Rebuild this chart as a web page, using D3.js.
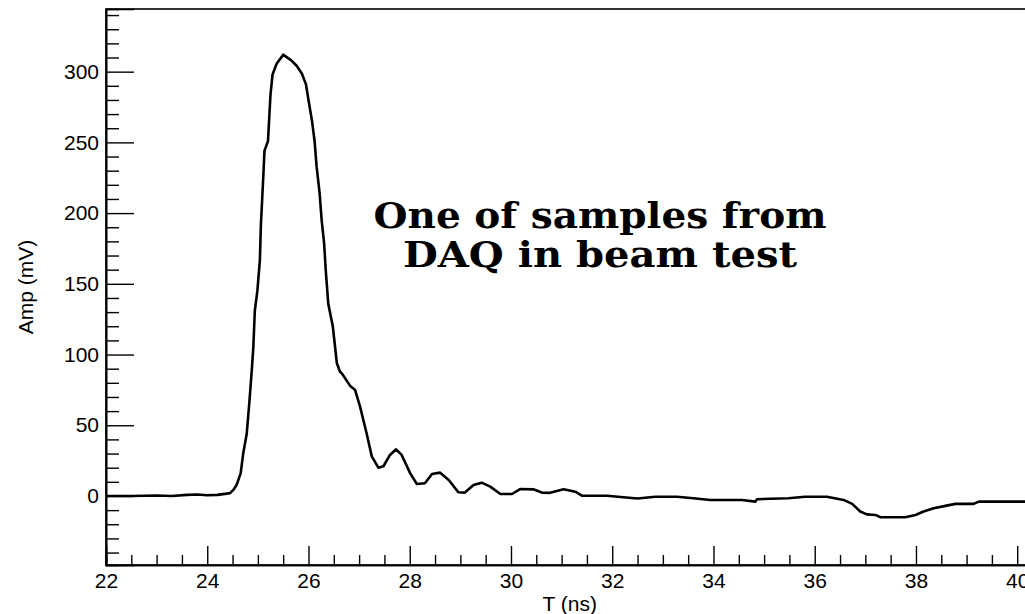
<!DOCTYPE html>
<html>
<head>
<meta charset="utf-8">
<script src="https://cdn.jsdelivr.net/npm/d3@7"></script>
<style>
  html, body { margin: 0; padding: 0; background: #fff; }
  svg { display: block; }
</style>
</head>
<body>
<svg id="chart" width="1025" height="614"></svg>
<script>
// Digitised waveform: time (ns) and amplitude (mV)
const timeNs = [
  22.0, 22.5, 23.0, 23.3, 23.6, 23.8, 24.0, 24.2, 24.35, 24.45, 24.52, 24.58,
  24.66, 24.71, 24.78, 24.83, 24.88, 24.91, 24.94, 24.99, 25.04, 25.06, 25.11,
  25.13, 25.20, 25.23, 25.25, 25.29, 25.37, 25.50, 25.66, 25.77, 25.87, 25.95,
  26.00, 26.07, 26.12, 26.16, 26.22, 26.26, 26.31, 26.34, 26.39, 26.48, 26.56,
  26.62, 26.66, 26.82, 26.92, 27.02, 27.15, 27.25, 27.38, 27.48, 27.61, 27.73,
  27.84, 28.01, 28.14, 28.30, 28.44, 28.60, 28.77, 28.96, 29.09, 29.26, 29.42,
  29.59, 29.79, 30.02, 30.18, 30.44, 30.61, 30.77, 31.04, 31.27, 31.40, 31.90,
  32.22, 32.50, 32.85, 33.28, 33.60, 33.94, 34.56, 34.83, 34.86, 35.48, 35.81,
  36.24, 36.57, 36.74, 36.90, 37.03, 37.20, 37.30, 37.79, 37.99, 38.15, 38.35,
  38.58, 38.78, 39.14, 39.24, 40.45
];
const ampMv = [
  0.0, 0.0, 0.3, 0.0, 0.8, 1.0, 0.5, 0.8, 1.5, 2.0, 4.5, 7.8,
  16, 30, 44, 65.5, 89, 105, 131, 145, 167, 192, 228,
  244, 251, 271, 284, 298, 305.6, 312, 308, 304, 298.5, 291,
  280, 265, 251, 233, 214, 195, 178, 160, 136, 120, 94,
  88, 86.6, 78, 75, 63, 44, 28, 20, 21, 29, 33,
  29, 16, 8.5, 9, 15.5, 16.5, 11.3, 2.6, 2.4, 7.8, 9.4,
  6.6, 1.4, 1.4, 4.9, 4.7, 2.4, 2.2, 4.7, 3.0, 0.2, 0.2,
  -0.9, -1.8, -0.5, -0.5, -1.6, -2.8, -2.8, -4.0, -2.3, -1.6, -0.5,
  -0.5, -2.8, -5.6, -11, -13, -13.4, -15, -15, -13.4, -11, -8.7,
  -7.0, -5.6, -5.6, -4.0, -4.0
];

const xMajorTicks = [22, 24, 26, 28, 30, 32, 34, 36, 38, 40];
const yMajorTicks = [0, 50, 100, 150, 200, 250, 300];
const xTitle = "T (ns)";
const yTitle = "Amp (mV)";
const noteLines = ["One of samples from", "DAQ in beam test"];

const sansFont = "'Liberation Sans', Arial, sans-serif";
const svg = d3.select("#chart");
const frame = { left: 106, top: 9, right: 1040, bottom: 565 };

const x = d3.scaleLinear().domain([22, 40.45]).range([frame.left, frame.right]);
const y = d3.scaleLinear().domain([-48.8, 344.3]).range([frame.bottom, frame.top]);

// minor ticks: every 0.5 ns / 10 mV that is not a major tick
const xMinor = d3.range(22.5, 40.45, 0.5).filter(v => Math.abs(v / 2 - Math.round(v / 2)) > 1e-6);
const yMinor = d3.range(-40, 344, 10).filter(v => v % 50 !== 0);

svg.append("defs").append("clipPath").attr("id", "plotClip")
  .append("rect")
  .attr("x", frame.left).attr("y", frame.top)
  .attr("width", frame.right - frame.left).attr("height", frame.bottom - frame.top);

// frame
svg.append("rect")
  .attr("x", frame.left).attr("y", frame.top)
  .attr("width", frame.right - frame.left).attr("height", frame.bottom - frame.top)
  .attr("fill", "none").attr("stroke", "#000").attr("stroke-width", 1.6);

// axes (ticks point into the frame)
const gx = svg.append("g").attr("transform", `translate(0,${frame.bottom})`);
gx.call(d3.axisBottom(x).tickValues(xMajorTicks).tickSize(-19).tickPadding(8).tickFormat(d3.format("d")));
const gxm = svg.append("g").attr("transform", `translate(0,${frame.bottom})`);
gxm.call(d3.axisBottom(x).tickValues(xMinor).tickSize(-10).tickFormat(""));

const gy = svg.append("g").attr("transform", `translate(${frame.left},0)`);
gy.call(d3.axisLeft(y).tickValues(yMajorTicks).tickSize(-28).tickPadding(7).tickFormat(d3.format("d")));
const gym = svg.append("g").attr("transform", `translate(${frame.left},0)`);
gym.call(d3.axisLeft(y).tickValues(yMinor).tickSize(-13).tickFormat(""));

svg.selectAll(".domain").attr("stroke", "#000").attr("stroke-width", 1.6);
svg.selectAll(".tick line").attr("stroke", "#000").attr("stroke-width", 1.4);
svg.selectAll(".tick text")
  .attr("fill", "#000")
  .style("font-family", sansFont)
  .style("font-size", "21px");

// axis titles
svg.append("text")
  .attr("x", 597).attr("y", 611)
  .attr("text-anchor", "end")
  .style("font-family", sansFont)
  .style("font-size", "21px")
  .text(xTitle);

svg.append("text")
  .attr("transform", "translate(33,287) rotate(-90)")
  .attr("text-anchor", "middle")
  .style("font-family", sansFont)
  .style("font-size", "21px")
  .text(yTitle);

// waveform
const line = d3.line()
  .x((d, i) => x(timeNs[i]))
  .y(d => y(d));

svg.append("path")
  .datum(ampMv)
  .attr("clip-path", "url(#plotClip)")
  .attr("fill", "none")
  .attr("stroke", "#000")
  .attr("stroke-width", 2.6)
  .attr("stroke-linejoin", "round")
  .attr("d", line);

// annotation
const noteWidths = [453, 394];
const noteY = [228, 267];
noteLines.forEach((t, i) => {
  svg.append("text")
    .attr("x", 600).attr("y", noteY[i])
    .attr("text-anchor", "middle")
    .attr("textLength", noteWidths[i])
    .attr("lengthAdjust", "spacingAndGlyphs")
    .style("font-family", "'DejaVu Serif', serif")
    .style("font-weight", "bold")
    .style("font-size", "35px")
    .text(t);
});
</script>
</body>
</html>
